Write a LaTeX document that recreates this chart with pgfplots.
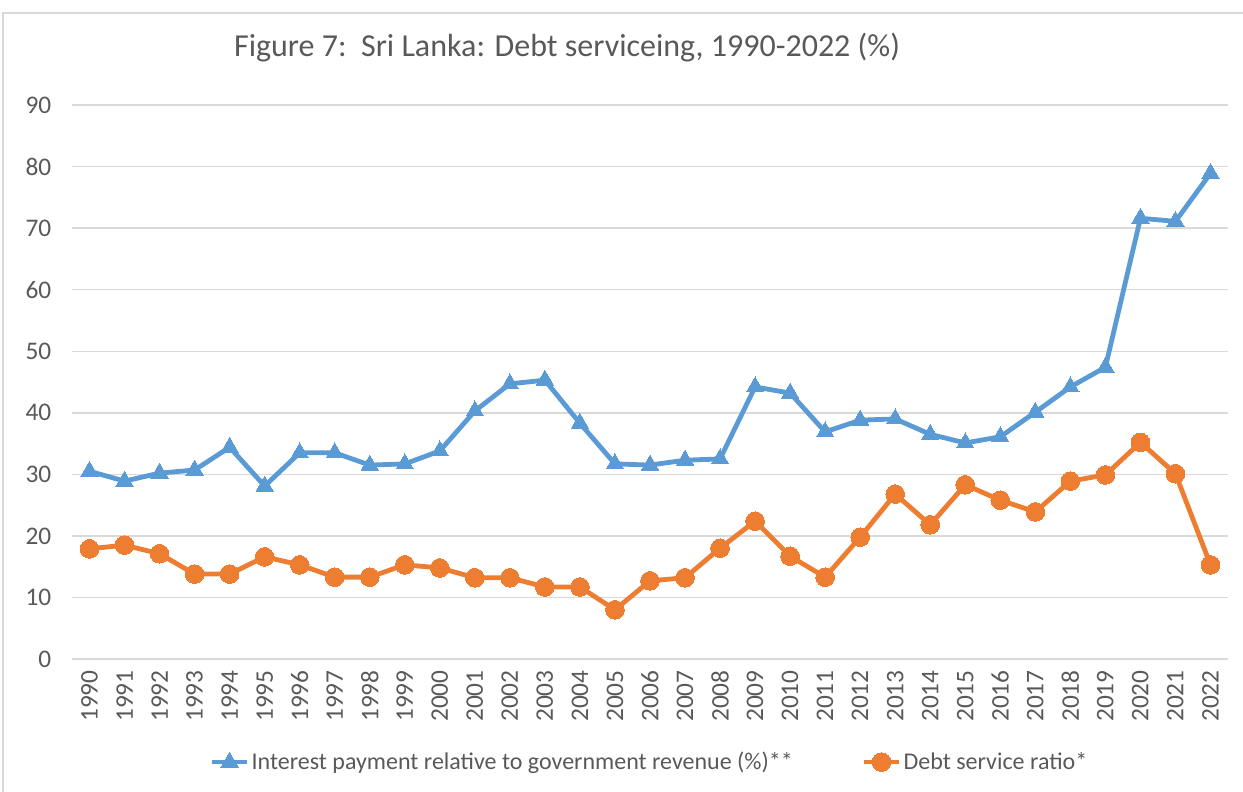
\documentclass[border=0pt]{standalone}
\usepackage{fontspec}
\setmainfont{Carlito}
\usepackage{pgfplots}
\pgfplotsset{compat=1.18}
\definecolor{ser1}{HTML}{5B9BD5}
\definecolor{ser2}{HTML}{ED7D31}
\definecolor{gridc}{HTML}{D9D9D9}
\definecolor{txt}{HTML}{595959}
\begin{document}
\begin{tikzpicture}
\useasboundingbox (0,0) rectangle (932.25pt,-594pt);
\clip (0,0) rectangle (932.25pt,-594pt);
% chart area border
\draw[gridc, line width=0.8pt] (2.25pt,-600pt) -- (2.25pt,-9.75pt) -- (940pt,-9.75pt);
\node[txt, font=\fontsize{24}{28}\selectfont] at (425.25pt,-36pt) {Figure 7:\ \ Sri Lanka: Debt serviceing, 1990-2022 (\%)};
\begin{axis}[at={(54pt,-494.25pt)}, anchor=south west, scale only axis,
  width=867pt, height=415.5pt,
  xmin=1989.5, xmax=2022.5, ymin=0, ymax=90,
  xtick={1990,...,2022}, ytick={0,10,...,90},
  /pgf/number format/assume math mode=true,
  tick label style={txt, font=\fontsize{19}{22}\selectfont},
  x tick label style={/pgf/number format/1000 sep={}, yshift=-5pt, rotate=90, anchor=east},
  y tick label style={xshift=-12pt},
  major tick length=0pt,
  axis x line*=bottom, axis y line*=left,
  x axis line style={gridc, line width=1.1pt},
  y axis line style={draw=none},
  ymajorgrids, grid style={gridc, line width=1.1pt},
  legend style={at={(0.5,-0.186)}, anchor=center, draw=none, fill=none,
    legend columns=2, font=\fontsize{18}{21}\selectfont, text=txt,
    /tikz/every even column/.append style={column sep=50pt}},
  legend image code/.code={\draw[mark repeat=2,mark phase=2] plot coordinates {(0cm,0cm)(0.45cm,0cm)(0.9cm,0cm)};},
]
\addplot[ser1, line width=3.6pt, line join=round, mark=triangle*, mark size=7.5pt, mark options={solid, line width=0pt}] coordinates {
(1990,30.5) (1991,28.9) (1992,30.2) (1993,30.7) (1994,34.4) (1995,28.1)
(1996,33.5) (1997,33.5) (1998,31.5) (1999,31.7) (2000,33.8) (2001,40.3)
(2002,44.7) (2003,45.3) (2004,38.3) (2005,31.7) (2006,31.5) (2007,32.3)
(2008,32.5) (2009,44.2) (2010,43.2) (2011,36.9) (2012,38.8) (2013,39.0)
(2014,36.5) (2015,35.1) (2016,36.1) (2017,40.1) (2018,44.2) (2019,47.4)
(2020,71.6) (2021,71.1) (2022,78.9)};
\addlegendentry{Interest payment relative to government revenue (\%)**}
\addplot[ser2, line width=3.6pt, line join=round, mark=*, mark size=7pt, mark options={solid, line width=0pt}] coordinates {
(1990,17.9) (1991,18.5) (1992,17.1) (1993,13.8) (1994,13.8) (1995,16.6)
(1996,15.3) (1997,13.3) (1998,13.3) (1999,15.3) (2000,14.8) (2001,13.2)
(2002,13.2) (2003,11.7) (2004,11.7) (2005,8.0) (2006,12.7) (2007,13.2)
(2008,18.0) (2009,22.4) (2010,16.7) (2011,13.3) (2012,19.8) (2013,26.8)
(2014,21.8) (2015,28.3) (2016,25.8) (2017,23.9) (2018,28.9) (2019,29.9)
(2020,35.2) (2021,30.1) (2022,15.3)};
\addlegendentry{Debt service ratio*}
\end{axis}
\end{tikzpicture}
\end{document}
